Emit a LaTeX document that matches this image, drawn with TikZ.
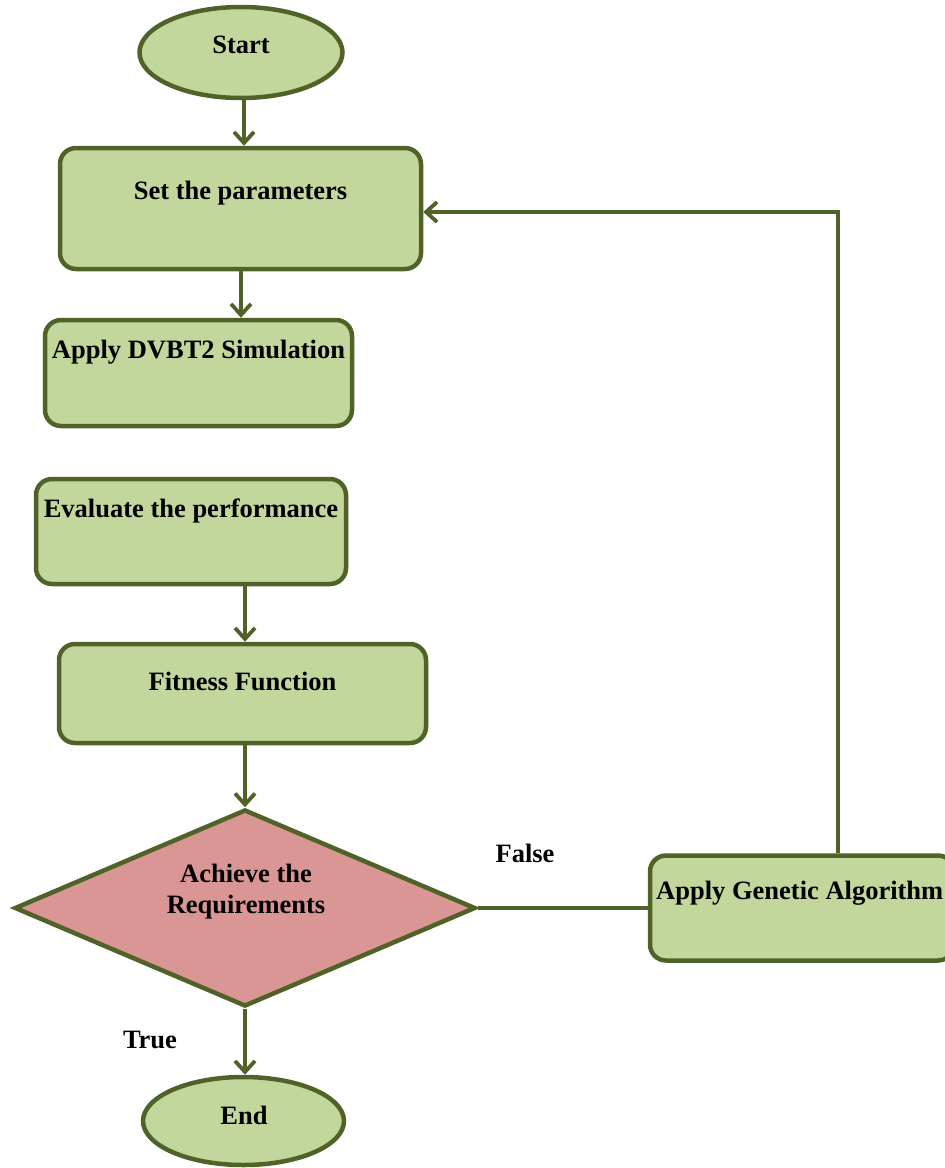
\documentclass[tikz,border=0pt]{standalone}
\usepackage{fontspec}
\setmainfont{Liberation Serif}
\usetikzlibrary{shapes.geometric,arrows.meta}
\definecolor{gfill}{HTML}{C3D69B}
\definecolor{gline}{HTML}{4F6228}
\definecolor{rfill}{HTML}{D99694}
\begin{document}
\begin{tikzpicture}[x=1pt,y=-1pt,
  base/.style={draw=gline,line width=4.5pt,fill=gfill,inner sep=0pt},
  box/.style={base,rectangle,rounded corners=16pt},
  oval/.style={base,ellipse},
  dia/.style={draw=gline,line width=4.5pt,fill=rfill,diamond,inner sep=0pt},
  txt/.style={font=\fontsize{26.5}{31}\selectfont\bfseries,inner sep=0pt,align=center},
  conn/.style={draw=gline,line width=3.8pt},
  arr/.style={conn,-{Straight Barb[length=11pt,width=20pt,line width=3.8pt]}}]
\useasboundingbox (0,0) rectangle (945,1168);
% nodes
\node[oval,minimum width=203pt,minimum height=91pt] (start) at (241,52.5) {};
\node[txt] (tstart) at (241,45) {Start};
\node[box,minimum width=361pt,minimum height=121pt] (set) at (240.5,208.5) {};
\node[txt] (tset) at (240.5,193) {Set the parameters};
\node[box,minimum width=307pt,minimum height=106pt] (dvb) at (198.5,373) {};
\node[txt] (tdvb) at (198.5,352) {Apply DVBT2 Simulation};
\node[box,minimum width=310pt,minimum height=105pt] (eval) at (191,531.5) {};
\node[txt] (teval) at (191,511) {Evaluate the performance};
\node[box,minimum width=367pt,minimum height=99pt] (fit) at (242.5,693.5) {};
\node[txt] (tfit) at (242.5,681) {Fitness Function};
\node[dia,minimum width=461pt,minimum height=197pt] (dia) at (245,908) {};
\node[txt] (tdia) at (246,892) {Achieve the\\Requirements};
\node[box,minimum width=304pt,minimum height=105pt] (ga) at (802,908) {};
\node[txt,anchor=west] (tga) at (656,893) {Apply Genetic Algorithm};
\node[oval,minimum width=201pt,minimum height=88pt] (end) at (243.5,1121) {};
\node[txt] (tend) at (244,1115) {End};
\node[txt] (false) at (525,853) {False};
\node[txt] (true) at (150,1040) {True};
\coordinate (fb) at (838,212);
% connectors
\draw[arr] (start.south -| 244,0) -- (set.north -| 244,0);
\draw[arr] (set.south -| 241,0) -- (dvb.north -| 241,0);
\draw[arr] (eval.south -| 245,0) -- (fit.north -| 245,0);
\draw[arr] (fit.south -| dia.north) -- (dia.north);
\draw[conn] (dia.east) -- (ga.west);
\draw[arr] (ga.north -| fb) -- (fb) -- (set.east |- fb);
\draw[arr] (dia.south) -- (dia.south |- end.north);
\end{tikzpicture}
\end{document}
